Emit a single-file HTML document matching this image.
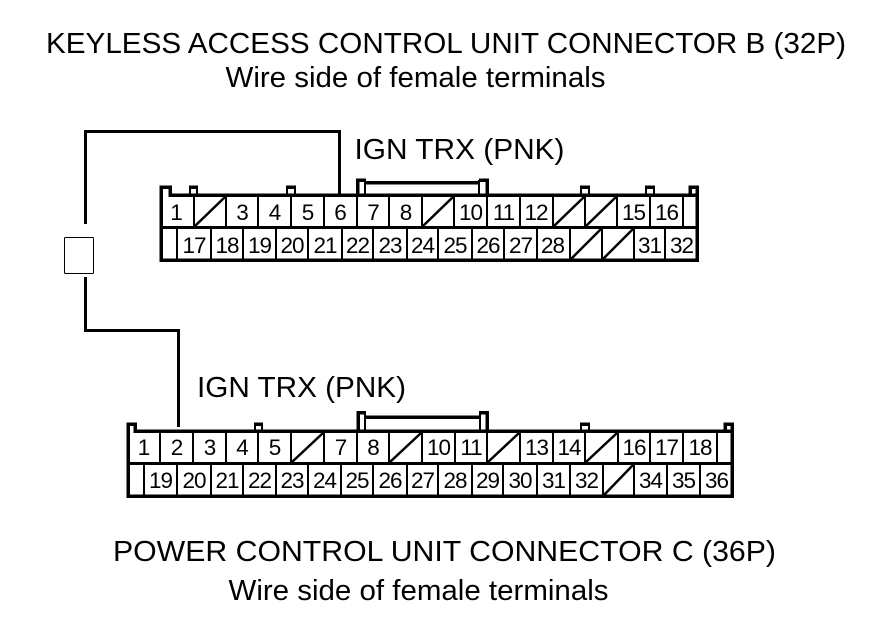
<!DOCTYPE html>
<html>
<head>
<meta charset="utf-8">
<style>
html,body{margin:0;padding:0;background:#fff;}
svg{display:block;}
text{font-family:"Liberation Sans",sans-serif;fill:#000;}
.t{font-size:28.500px;}
.n{font-size:22.500px;text-anchor:middle;letter-spacing:-1px;}
</style>
</head>
<body>
<svg width="880" height="630" viewBox="0 0 880 630" xmlns="http://www.w3.org/2000/svg">
<rect width="880" height="630" fill="#fff"/>
<text class="t" x="46" y="53" textLength="800" lengthAdjust="spacingAndGlyphs">KEYLESS ACCESS CONTROL UNIT CONNECTOR B (32P)</text>
<text class="t" x="225.500" y="87" textLength="380" lengthAdjust="spacingAndGlyphs">Wire side of female terminals</text>
<text class="t" x="354.500" y="159" textLength="210" lengthAdjust="spacingAndGlyphs">IGN TRX (PNK)</text>
<text class="t" x="197" y="397" textLength="209" lengthAdjust="spacingAndGlyphs">IGN TRX (PNK)</text>
<text class="t" x="113" y="561" textLength="663" lengthAdjust="spacingAndGlyphs">POWER CONTROL UNIT CONNECTOR C (36P)</text>
<text class="t" x="228.500" y="600" textLength="380" lengthAdjust="spacingAndGlyphs">Wire side of female terminals</text>

<!-- wires -->
<g fill="none" stroke="#000" stroke-width="3" shape-rendering="crispEdges">
<path d="M85.500 224V131.500H339.500V195"/>
<path d="M85.500 277V330.500H178.500V427"/>
</g>
<rect x="64.500" y="237.500" width="29" height="36" rx="1" fill="#fff" stroke="#000" stroke-width="1"/>

<!-- connector B frame -->
<g fill="none" stroke="#000" stroke-width="3.500" shape-rendering="crispEdges">
<path d="M161 260V187H170V195H697V260Z"/>
<path d="M697 195V187H690V195"/>
<path d="M357.500 195V180H366M366 182.500H480M487 195V180H479" stroke-width="3.500"/>
<path d="M161 227.500H698" stroke-width="3"/>
<path d="M189 187H198M286 187H296M580 187H590M645 187H655"/>
</g>
<g fill="none" stroke="#000" stroke-width="2" shape-rendering="crispEdges">
<path d="M365 180V195M479 180V195"/>
<path d="M190 195V187H197V195M287 195V187H295V195M581 195V187H589V195M646 195V187H654V195"/>
<path d="M194 195V227M226 195V227M258 195V227M291 195V227M324 195V227M357 195V227M389 195V227M422 195V227M454 195V227M487 195V227M520 195V227M553 195V227M585 195V227M617 195V227M650 195V227M683 195V227"/>
<path d="M177 227V260M211 227V260M243 227V260M276 227V260M308 227V260M342 227V260M373 227V260M407 227V260M438 227V260M472 227V260M504 227V260M537 227V260M570 227V260M602 227V260M634 227V260M665 227V260"/>
</g>
<g fill="none" stroke="#000" stroke-width="2.500">
<path d="M195 226L225 197M423 226L453 197M554 226L584 197M586 226L616 197M571 259L601 229M603 259L633 229"/>
</g>
<g>
<text class="n" x="176" y="220">1</text><text class="n" x="242" y="220">3</text><text class="n" x="274.500" y="220">4</text><text class="n" x="307.500" y="220">5</text><text class="n" x="340" y="220">6</text><text class="n" x="373" y="220">7</text><text class="n" x="405.500" y="220">8</text><text class="n" x="470.500" y="220">10</text><text class="n" x="503.500" y="220">11</text><text class="n" x="536" y="220">12</text><text class="n" x="633.500" y="220">15</text><text class="n" x="666.500" y="220">16</text>
<text class="n" x="194" y="253">17</text><text class="n" x="227" y="253">18</text><text class="n" x="259.500" y="253">19</text><text class="n" x="292" y="253">20</text><text class="n" x="325" y="253">21</text><text class="n" x="357.500" y="253">22</text><text class="n" x="390" y="253">23</text><text class="n" x="422.500" y="253">24</text><text class="n" x="455" y="253">25</text><text class="n" x="488" y="253">26</text><text class="n" x="520.500" y="253">27</text><text class="n" x="552.500" y="253">28</text><text class="n" x="649.500" y="253">31</text><text class="n" x="681.500" y="253">32</text>
</g>

<!-- connector C frame -->
<g fill="none" stroke="#000" stroke-width="3.500" shape-rendering="crispEdges">
<path d="M128 496V424H135V431H732V496Z"/>
<path d="M732 431V424H725V431"/>
<path d="M358 431V412.500H366M366 417H480M487 431V412.500H479"/>
<path d="M128 463.500H732" stroke-width="3"/>
<path d="M254 424H263M580 424H590"/>
</g>
<g fill="none" stroke="#000" stroke-width="2" shape-rendering="crispEdges">
<path d="M365 412V431M480 412V431"/>
<path d="M255 431V424H262V431M581 431V424H589V431"/>
<path d="M160 431V463M193 431V463M226 431V463M258 431V463M291 431V463M324 431V463M357 431V463M389 431V463M422 431V463M455 431V463M487 431V463M520 431V463M553 431V463M585 431V463M618 431V463M650 431V463M683 431V463M717 431V463"/>
<path d="M144 463V496M177 463V496M211 463V496M243 463V496M276 463V496M308 463V496M341 463V496M373 463V496M407 463V496M438 463V496M472 463V496M503 463V496M537 463V496M570 463V496M603 463V496M634 463V496M667 463V496M700 463V496"/>
</g>
<g fill="none" stroke="#000" stroke-width="2.500">
<path d="M292 462L323 433M390 462L421 433M488 462L519 433M586 462L617 433M604 495L633 465"/>
</g>
<g>
<text class="n" x="143.500" y="455">1</text><text class="n" x="176.500" y="455">2</text><text class="n" x="209.500" y="455">3</text><text class="n" x="242" y="455">4</text><text class="n" x="274.500" y="455">5</text><text class="n" x="340.500" y="455">7</text><text class="n" x="373" y="455">8</text><text class="n" x="438.500" y="455">10</text><text class="n" x="471" y="455">11</text><text class="n" x="536.500" y="455">13</text><text class="n" x="569" y="455">14</text><text class="n" x="634" y="455">16</text><text class="n" x="666.500" y="455">17</text><text class="n" x="700" y="455">18</text>
<text class="n" x="160.500" y="488">19</text><text class="n" x="194" y="488">20</text><text class="n" x="227" y="488">21</text><text class="n" x="259.500" y="488">22</text><text class="n" x="292" y="488">23</text><text class="n" x="324.500" y="488">24</text><text class="n" x="357" y="488">25</text><text class="n" x="390" y="488">26</text><text class="n" x="422.500" y="488">27</text><text class="n" x="455" y="488">28</text><text class="n" x="487.500" y="488">29</text><text class="n" x="520" y="488">30</text><text class="n" x="553.500" y="488">31</text><text class="n" x="586.500" y="488">32</text><text class="n" x="650.500" y="488">34</text><text class="n" x="683.500" y="488">35</text><text class="n" x="716.500" y="488">36</text>
</g>
</svg>
</body>
</html>
